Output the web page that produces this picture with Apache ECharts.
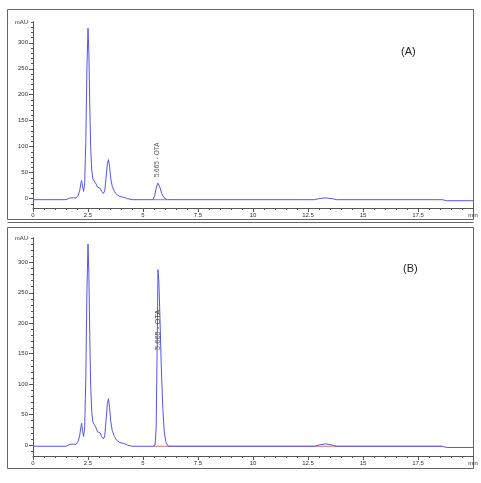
<!DOCTYPE html>
<html><head><meta charset="utf-8">
<script src="https://cdn.jsdelivr.net/npm/echarts@6/dist/echarts.min.js"></script>
<style>html,body{margin:0;padding:0;background:#fff}#c{width:481px;height:483px}</style>
</head><body><div id="c"></div>
<script>
// Chromatogram (A): retention time (min) and absorbance (mAU)
var timesA = [0,1.5,1.6,1.7,1.85,1.95,2.05,2.12,2.18,2.21,2.25,2.3,2.35,2.4,2.45,2.5,2.54,2.58,2.62,2.67,2.72,2.78,2.82,2.87,2.93,3.0,3.05,3.12,3.2,3.26,3.32,3.38,3.43,3.48,3.53,3.6,3.7,3.8,3.95,4.1,4.3,4.5,5.45,5.52,5.6,5.67,5.75,5.85,5.95,6.1,7,10,12.8,13.0,13.3,13.6,13.8,18.6,18.8,20];
var valuesA = [-2,-2,0,1.5,1.5,1,6,15,30,35,24,14,30,110,250,328,280,180,100,55,38,34,35,28,22,21,20,14,10,15,40,68,75,62,40,24,14,8,4,3,0,-2,-2,4,20,30,24,10,2,-2,-2,-2,-2,0,1.5,0,-2,-2,-4,-4];
// Chromatogram (B)
var timesB = [0,1.5,1.6,1.7,1.85,1.95,2.05,2.12,2.18,2.21,2.25,2.3,2.35,2.4,2.45,2.5,2.54,2.58,2.62,2.67,2.72,2.78,2.82,2.87,2.93,3.0,3.05,3.12,3.2,3.26,3.32,3.38,3.43,3.48,3.53,3.6,3.7,3.8,3.95,4.1,4.3,4.5,5.45,5.55,5.6,5.64,5.68,5.72,5.77,5.83,5.9,5.97,6.05,6.15,7,10,12.8,13.0,13.3,13.6,13.8,18.6,18.8,20];
var valuesB = [-2,-2,0,1.5,1.5,1,6,15,30,36,24,14,30,110,250,330,280,180,100,55,38,34,36,28,22,21,20,14,10,15,40,68,76,62,40,24,14,8,4,3,0,-2,-2,0,30,150,288,270,210,130,60,20,4,-2,-2,-2,-2,0,2,0,-2,-2,-4,-4];
// integration baselines
var baseTimesA = [5.45,6.1];
var baseValuesA = [-2,-2];
var baseTimesB = [5.45,18.6];
var baseValuesB = [-2,-2];
// peak annotation
var peakLabel = '5.665 - OTA';
var peakTime = 5.665;
var labelValA = 41;
var labelValB = 156;
var panelNames = ['(A)','(B)'];
var yTickValues = [0,50,100,150,200,250,300];
var yNameValue = 340;
var yMinorValues = [-10,0,10,20,30,40,50,60,70,80,90,100,110,120,130,140,150,160,170,180,190,200,210,220,230,240,250,260,270,280,290,300,310,320,330,340];

function zip(t,v){return t.map(function(x,i){return [x,v[i]];});}

var yMin = -18, yMax = 340;
var axisCol = '#555';
function xAx(g){
  return {type:'value',gridIndex:g,min:0,max:20,interval:2.5,
    axisLine:{onZero:false,lineStyle:{color:axisCol,width:1}},
    axisTick:{length:4,lineStyle:{color:axisCol}},
    minorTick:{show:true,splitNumber:5,length:2,lineStyle:{color:axisCol}},
    splitLine:{show:false},
    axisLabel:{fontSize:6,color:'#333',margin:4,fontFamily:'Liberation Sans',
      formatter:function(v){return v===20?'min':String(v);}}};
}
function yAx(g){
  return {type:'value',gridIndex:g,min:yMin,max:yMax,position:'left',
    axisLine:{show:true,lineStyle:{color:axisCol,width:1}},
    axisTick:{show:true,length:4,customValues:yTickValues,lineStyle:{color:axisCol}},
    splitLine:{show:false},
    axisLabel:{fontSize:6,color:'#333',margin:5,fontFamily:'Liberation Sans',
      customValues:yTickValues.concat([yNameValue]),
      formatter:function(v){return v===yNameValue?'mAU':String(v);}}};
}
function yMinor(g){
  return {type:'value',gridIndex:g,min:yMin,max:yMax,position:'left',offset:0,
    axisLine:{show:true,lineStyle:{color:axisCol,width:1}},
    axisTick:{show:true,length:2,customValues:yMinorValues,lineStyle:{color:axisCol}},
    splitLine:{show:false},axisLabel:{show:false}};
}
var lineCol = '#5555ee';
function mainSeries(g,data,lv,fs){
  return {type:'line',xAxisIndex:g,yAxisIndex:g*2,data:data,showSymbol:false,symbol:'none',
    lineStyle:{color:lineCol,width:1},z:3,
    markPoint:{symbol:'circle',symbolSize:0,silent:true,animation:false,
      data:[{coord:[peakTime,lv]}],
      label:{show:true,formatter:peakLabel,position:'inside',rotate:90,align:'left',verticalAlign:'middle',
        fontSize:fs,color:'#555',fontFamily:'Liberation Sans'}}};
}
function baseSeries(g,data){
  return {type:'line',xAxisIndex:g,yAxisIndex:g*2,data:data,showSymbol:false,symbol:'none',
    lineStyle:{color:'#c0302a',width:1,opacity:0.7},z:2};
}

var option = {
  animation:false,
  backgroundColor:'#ffffff',
  grid:[{left:33,right:8,top:22,height:186},{left:33,right:8,top:238,height:218}],
  xAxis:[xAx(0),xAx(1)],
  yAxis:[yAx(0),yMinor(0),yAx(1),yMinor(1)],
  series:[
    mainSeries(0,zip(timesA,valuesA),labelValA,6.5),
    baseSeries(0,zip(baseTimesA,baseValuesA)),
    mainSeries(1,zip(timesB,valuesB),labelValB,7.5),
    baseSeries(1,zip(baseTimesB,baseValuesB))
  ],
  graphic:[
    {type:'rect',shape:{x:7.5,y:9.5,width:466,height:210},style:{fill:'none',stroke:'#666',lineWidth:1},silent:true},
    {type:'line',shape:{x1:7.5,y1:222.5,x2:473.5,y2:222.5},style:{stroke:'#666',lineWidth:1},silent:true},
    {type:'rect',shape:{x:7.5,y:227.5,width:466,height:241},style:{fill:'none',stroke:'#666',lineWidth:1},silent:true},
    {type:'text',x:401,y:46,style:{text:panelNames[0],fontSize:11,fill:'#222',fontFamily:'Liberation Sans'}},
    {type:'text',x:403,y:263,style:{text:panelNames[1],fontSize:11,fill:'#222',fontFamily:'Liberation Sans'}}
  ]
};
var chart = echarts.init(document.getElementById('c'),null,{renderer:'canvas'});
chart.setOption(option);
</script></body></html>
